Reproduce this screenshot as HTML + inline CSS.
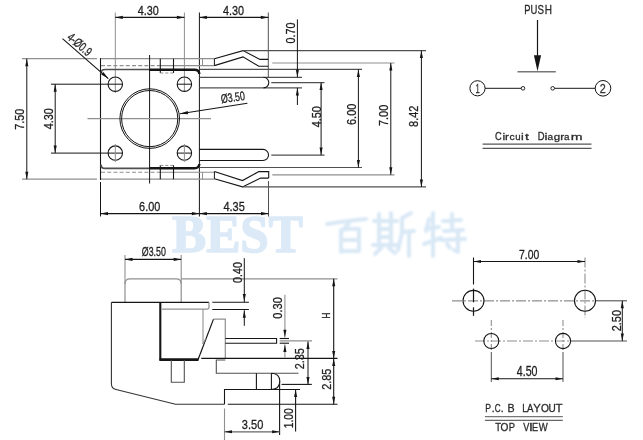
<!DOCTYPE html>
<html><head><meta charset="utf-8"><style>
html,body{margin:0;padding:0;background:#fff;width:643px;height:440px;overflow:hidden}
svg{display:block;will-change:transform}
text{font-family:"Liberation Sans",sans-serif;white-space:pre;stroke:currentColor;stroke-width:0.3px}
</style></head><body>
<svg width="643" height="440" viewBox="0 0 643 440">
<defs><filter id="bl" x="-10%" y="-10%" width="120%" height="120%"><feGaussianBlur stdDeviation="0.9"/></filter></defs>
<rect width="643" height="440" fill="#fff"/>
<text x="237.5" y="251.5" style="font-family:Liberation Serif;font-weight:bold;stroke:#dceaf8;stroke-width:1.6px;stroke-linejoin:round" font-size="53" fill="#dceaf8" text-anchor="middle" textLength="131" lengthAdjust="spacingAndGlyphs">BEST</text>
<path stroke="#d9e8f6" stroke-width="4.0" fill="none" stroke-linecap="round" stroke-linejoin="round" filter="url(#bl)" d="M327,224 Q345,221 366,219 M349,223 L342,231 M341,231 V252 M341,230 Q350,228 359,229 V251 M341,240 H359 M341,251 H359"/>
<path stroke="#d9e8f6" stroke-width="4.0" fill="none" stroke-linecap="round" stroke-linejoin="round" filter="url(#bl)" d="M379,214 V246 M391,213 V246 M374,221 H397 M379,229 H391 M379,237 H391 M373,245 H398 M381,248 L375,254 M389,248 L395,253 M402,218 L411,213 M402,218 V233 L398,250 M402,232 L414,231 M409,232 V256"/>
<path stroke="#d9e8f6" stroke-width="4.0" fill="none" stroke-linecap="round" stroke-linejoin="round" filter="url(#bl)" d="M429,219 L426,231 M426,229 L439,227 M433,213 V256 M424,244 L441,238 M452,214 V231 M443,221 L461,220 M444,231 L463,230 M441,240 L465,239 M458,233 V252 L454,250 M447,244 L450,248"/>
<line x1="115.3" y1="12.5" x2="115.3" y2="93" stroke="#8f8f8f" stroke-width="1"/>
<line x1="184.4" y1="12.5" x2="184.4" y2="92" stroke="#8f8f8f" stroke-width="1"/>
<line x1="199.4" y1="12.5" x2="199.4" y2="216.5" stroke="#151515" stroke-width="1"/>
<line x1="268.3" y1="12.5" x2="268.3" y2="78" stroke="#505050" stroke-width="1"/>
<line x1="115.3" y1="17.4" x2="184.4" y2="17.4" stroke="#151515" stroke-width="1.1"/>
<path d="M115.30,17.40 L122.80,15.85 L122.80,18.95 Z" fill="#151515"/>
<path d="M184.40,17.40 L176.90,18.95 L176.90,15.85 Z" fill="#151515"/>
<line x1="199.4" y1="17.4" x2="268.3" y2="17.4" stroke="#151515" stroke-width="1.1"/>
<path d="M199.40,17.40 L206.90,15.85 L206.90,18.95 Z" fill="#151515"/>
<path d="M268.30,17.40 L260.80,18.95 L260.80,15.85 Z" fill="#151515"/>
<text transform="translate(148.35,10.10)" x="0" y="4.50" font-size="13.08" fill="#1e1e1e" color="#1e1e1e" text-anchor="middle" textLength="21.10" lengthAdjust="spacingAndGlyphs" style="font-family:Liberation Sans">4.30</text>
<text transform="translate(233.55,10.10)" x="0" y="4.50" font-size="13.08" fill="#1e1e1e" color="#1e1e1e" text-anchor="middle" textLength="21.10" lengthAdjust="spacingAndGlyphs" style="font-family:Liberation Sans">4.30</text>
<line x1="22" y1="58.7" x2="97" y2="58.7" stroke="#8f8f8f" stroke-width="1.2"/>
<line x1="22" y1="179.2" x2="97" y2="179.2" stroke="#8f8f8f" stroke-width="1.2"/>
<line x1="26.8" y1="58.7" x2="26.8" y2="179.2" stroke="#151515" stroke-width="1"/>
<path d="M26.80,58.70 L28.35,66.20 L25.25,66.20 Z" fill="#151515"/>
<path d="M26.80,179.20 L25.25,171.70 L28.35,171.70 Z" fill="#151515"/>
<line x1="51" y1="84.2" x2="123" y2="84.2" stroke="#151515" stroke-width="1"/>
<line x1="51" y1="153.1" x2="123" y2="153.1" stroke="#151515" stroke-width="1"/>
<line x1="55.2" y1="84.2" x2="55.2" y2="153.1" stroke="#151515" stroke-width="1"/>
<path d="M55.20,84.20 L56.75,91.70 L53.65,91.70 Z" fill="#151515"/>
<path d="M55.20,153.10 L53.65,145.60 L56.75,145.60 Z" fill="#151515"/>
<text transform="translate(19.40,119.20) rotate(-90)" x="0" y="4.50" font-size="13.08" fill="#1e1e1e" color="#1e1e1e" text-anchor="middle" textLength="21.00" lengthAdjust="spacingAndGlyphs" style="font-family:Liberation Sans">7.50</text>
<text transform="translate(48.40,118.80) rotate(-90)" x="0" y="4.50" font-size="13.08" fill="#1e1e1e" color="#1e1e1e" text-anchor="middle" textLength="21.00" lengthAdjust="spacingAndGlyphs" style="font-family:Liberation Sans">4.30</text>
<line x1="100" y1="58.7" x2="214.4" y2="58.7" stroke="#8f8f8f" stroke-width="1.3"/>
<line x1="100" y1="179.2" x2="214.4" y2="179.2" stroke="#8f8f8f" stroke-width="1.3"/>
<line x1="100.5" y1="58.2" x2="100.5" y2="180" stroke="#151515" stroke-width="1.1"/>
<line x1="100.5" y1="182" x2="100.5" y2="216.5" stroke="#151515" stroke-width="1"/>
<line x1="101" y1="65.6" x2="160" y2="65.6" stroke="#8f8f8f" stroke-width="1.1" stroke-dasharray="4,2.2"/>
<line x1="160" y1="65.6" x2="214.4" y2="65.6" stroke="#8f8f8f" stroke-width="1.1"/>
<line x1="101" y1="172.3" x2="160" y2="172.3" stroke="#8f8f8f" stroke-width="1.1" stroke-dasharray="4,2.2"/>
<line x1="160" y1="172.3" x2="214.4" y2="172.3" stroke="#8f8f8f" stroke-width="1.1"/>
<path d="M149.5,69.5 H105 Q101,69.5 101,73.5" stroke="#505050" stroke-width="1.7" fill="none"/>
<path d="M149.5,168.4 H105 Q101,168.4 101,164.4" stroke="#505050" stroke-width="1.7" fill="none"/>
<path d="M149.5,69.8 H194.5 Q199,69.8 199.4,74" stroke="#151515" stroke-width="2.4" fill="none"/>
<path d="M149.5,168.2 H194.5 Q199,168.2 199.4,164" stroke="#151515" stroke-width="2.4" fill="none"/>
<line x1="160.3" y1="58.7" x2="160.3" y2="73" stroke="#151515" stroke-width="1.1"/>
<line x1="160.3" y1="165.2" x2="160.3" y2="179.2" stroke="#151515" stroke-width="1.1"/>
<line x1="173.5" y1="58.7" x2="173.5" y2="73" stroke="#151515" stroke-width="1.1"/>
<line x1="173.5" y1="165.2" x2="173.5" y2="179.2" stroke="#151515" stroke-width="1.1"/>
<line x1="160.3" y1="73" x2="173.5" y2="73" stroke="#8f8f8f" stroke-width="1" stroke-dasharray="3,2"/>
<line x1="160.3" y1="165.4" x2="173.5" y2="165.4" stroke="#8f8f8f" stroke-width="1" stroke-dasharray="3,2"/>
<line x1="202.5" y1="58.7" x2="202.5" y2="65.6" stroke="#8f8f8f" stroke-width="1"/>
<line x1="202.5" y1="172.3" x2="202.5" y2="179.2" stroke="#8f8f8f" stroke-width="1"/>
<line x1="214.4" y1="58.7" x2="214.4" y2="65.6" stroke="#151515" stroke-width="1"/>
<line x1="214.4" y1="171.6" x2="214.4" y2="178.8" stroke="#151515" stroke-width="1"/>
<line x1="149.6" y1="55" x2="149.6" y2="183.5" stroke="#151515" stroke-width="1"/>
<line x1="87.5" y1="118.6" x2="211" y2="118.6" stroke="#8f8f8f" stroke-width="1.2"/>
<circle cx="149.7" cy="118.6" r="29.8" stroke="#151515" stroke-width="1" fill="none"/>
<circle cx="149.7" cy="118.6" r="28.1" stroke="#151515" stroke-width="1" fill="none"/>
<circle cx="115.3" cy="84.2" r="7.2" stroke="#151515" stroke-width="1.1" fill="none"/>
<circle cx="184.4" cy="84.2" r="7.2" stroke="#151515" stroke-width="1.1" fill="none"/>
<circle cx="115.3" cy="153.1" r="7.2" stroke="#151515" stroke-width="1.1" fill="none"/>
<circle cx="184.4" cy="153.1" r="7.2" stroke="#151515" stroke-width="1.1" fill="none"/>
<line x1="177.2" y1="84.2" x2="191.6" y2="84.2" stroke="#151515" stroke-width="1"/>
<line x1="177.2" y1="153.1" x2="191.6" y2="153.1" stroke="#151515" stroke-width="1"/>
<line x1="184.4" y1="144" x2="184.4" y2="162" stroke="#8f8f8f" stroke-width="1"/>
<line x1="115.3" y1="144" x2="115.3" y2="162" stroke="#8f8f8f" stroke-width="1"/>
<path d="M214.4,58.7 L243,50.6 L260,59.4 H268.3" stroke="#151515" stroke-width="1.1" fill="none"/>
<path d="M214.4,65.6 L243,56.9 L258.8,66.2 H268.3" stroke="#151515" stroke-width="1.1" fill="none"/>
<line x1="243" y1="50.6" x2="426" y2="50.6" stroke="#505050" stroke-width="1.1"/>
<path d="M214.4,171.6 L242.5,180.6 L258.8,171.6 H268.7 V178.1" stroke="#151515" stroke-width="1.1" fill="none"/>
<path d="M214.4,178.8 L242.5,186.9 L260.6,178.1 H268.7" stroke="#151515" stroke-width="1.1" fill="none"/>
<line x1="242.5" y1="186.9" x2="426" y2="186.9" stroke="#505050" stroke-width="1.1"/>
<line x1="268.5" y1="181" x2="268.5" y2="216.5" stroke="#505050" stroke-width="1"/>
<line x1="199.4" y1="77.3" x2="302" y2="77.3" stroke="#505050" stroke-width="1.2"/>
<line x1="199.4" y1="87.9" x2="302" y2="87.9" stroke="#505050" stroke-width="1.2"/>
<path d="M263.5,77.3 A5.3,5.3 0 0 1 263.5,87.9" stroke="#151515" stroke-width="1.1" fill="none"/>
<path d="M199.4,149.4 H263 A5.55,5.55 0 0 1 263,160.5 H199.4" stroke="#151515" stroke-width="1.1" fill="none"/>
<line x1="199.4" y1="69.4" x2="362" y2="69.4" stroke="#505050" stroke-width="1.1"/>
<line x1="199.4" y1="167.5" x2="362" y2="167.5" stroke="#505050" stroke-width="1.1"/>
<line x1="272.3" y1="63" x2="394.5" y2="63" stroke="#8f8f8f" stroke-width="1.2"/>
<line x1="272.3" y1="174.8" x2="394.5" y2="174.8" stroke="#8f8f8f" stroke-width="1.2"/>
<line x1="271.3" y1="82.6" x2="324.5" y2="82.6" stroke="#505050" stroke-width="1.1"/>
<line x1="271.3" y1="155.1" x2="324.5" y2="155.1" stroke="#505050" stroke-width="1.1"/>
<line x1="297.4" y1="19.4" x2="297.4" y2="77.3" stroke="#151515" stroke-width="1"/>
<path d="M297.40,77.30 L295.85,69.80 L298.95,69.80 Z" fill="#151515"/>
<line x1="297.4" y1="87.9" x2="297.4" y2="105" stroke="#151515" stroke-width="1"/>
<path d="M297.40,87.90 L298.95,95.40 L295.85,95.40 Z" fill="#151515"/>
<text transform="translate(290.30,33.10) rotate(-90)" x="0" y="4.50" font-size="13.08" fill="#1e1e1e" color="#1e1e1e" text-anchor="middle" textLength="21.00" lengthAdjust="spacingAndGlyphs" style="font-family:Liberation Sans">0.70</text>
<line x1="321.1" y1="82.6" x2="321.1" y2="155.1" stroke="#151515" stroke-width="1"/>
<path d="M321.10,82.60 L322.65,90.10 L319.55,90.10 Z" fill="#151515"/>
<path d="M321.10,155.10 L319.55,147.60 L322.65,147.60 Z" fill="#151515"/>
<text transform="translate(316.40,116.70) rotate(-90)" x="0" y="4.50" font-size="13.08" fill="#1e1e1e" color="#1e1e1e" text-anchor="middle" textLength="21.20" lengthAdjust="spacingAndGlyphs" style="font-family:Liberation Sans">4.50</text>
<line x1="358.4" y1="69.4" x2="358.4" y2="167.5" stroke="#151515" stroke-width="1"/>
<path d="M358.40,69.40 L359.95,76.90 L356.85,76.90 Z" fill="#151515"/>
<path d="M358.40,167.50 L356.85,160.00 L359.95,160.00 Z" fill="#151515"/>
<text transform="translate(351.20,114.35) rotate(-90)" x="0" y="4.50" font-size="13.08" fill="#1e1e1e" color="#1e1e1e" text-anchor="middle" textLength="21.30" lengthAdjust="spacingAndGlyphs" style="font-family:Liberation Sans">6.00</text>
<line x1="390.8" y1="63" x2="390.8" y2="174.8" stroke="#151515" stroke-width="1"/>
<path d="M390.80,63.00 L392.35,70.50 L389.25,70.50 Z" fill="#151515"/>
<path d="M390.80,174.80 L389.25,167.30 L392.35,167.30 Z" fill="#151515"/>
<text transform="translate(383.40,115.40) rotate(-90)" x="0" y="4.50" font-size="13.08" fill="#1e1e1e" color="#1e1e1e" text-anchor="middle" textLength="21.20" lengthAdjust="spacingAndGlyphs" style="font-family:Liberation Sans">7.00</text>
<line x1="421.4" y1="50.6" x2="421.4" y2="186.9" stroke="#151515" stroke-width="1"/>
<path d="M421.40,50.60 L422.95,58.10 L419.85,58.10 Z" fill="#151515"/>
<path d="M421.40,186.90 L419.85,179.40 L422.95,179.40 Z" fill="#151515"/>
<text transform="translate(413.30,116.30) rotate(-90)" x="0" y="4.50" font-size="13.08" fill="#1e1e1e" color="#1e1e1e" text-anchor="middle" textLength="21.20" lengthAdjust="spacingAndGlyphs" style="font-family:Liberation Sans">8.42</text>
<line x1="100.5" y1="213.6" x2="199.4" y2="213.6" stroke="#151515" stroke-width="1.1"/>
<path d="M100.50,213.60 L108.00,212.05 L108.00,215.15 Z" fill="#151515"/>
<path d="M199.40,213.60 L191.90,215.15 L191.90,212.05 Z" fill="#151515"/>
<line x1="199.4" y1="213.6" x2="268.5" y2="213.6" stroke="#151515" stroke-width="1.1"/>
<path d="M199.40,213.60 L206.90,212.05 L206.90,215.15 Z" fill="#151515"/>
<path d="M268.50,213.60 L261.00,215.15 L261.00,212.05 Z" fill="#151515"/>
<text transform="translate(149.70,206.65)" x="0" y="4.55" font-size="13.23" fill="#1e1e1e" color="#1e1e1e" text-anchor="middle" textLength="21.20" lengthAdjust="spacingAndGlyphs" style="font-family:Liberation Sans">6.00</text>
<text transform="translate(234.10,206.65)" x="0" y="4.55" font-size="13.23" fill="#1e1e1e" color="#1e1e1e" text-anchor="middle" textLength="21.40" lengthAdjust="spacingAndGlyphs" style="font-family:Liberation Sans">4.35</text>
<line x1="62.5" y1="38.6" x2="108.3" y2="78.6" stroke="#151515" stroke-width="1.1"/>
<path d="M108.30,78.60 L101.16,74.62 L103.39,72.06 Z" fill="#151515"/>
<text transform="translate(79.70,44.30) rotate(41.1)" x="0" y="4.40" font-size="12.79" fill="#1e1e1e" color="#1e1e1e" text-anchor="middle" textLength="28.00" lengthAdjust="spacingAndGlyphs" style="font-family:Liberation Sans">4-Ø0.9</text>
<line x1="180" y1="113.8" x2="247.4" y2="103.2" stroke="#151515" stroke-width="1.1"/>
<path d="M180.00,113.80 L187.64,110.88 L188.17,114.24 Z" fill="#151515"/>
<text transform="translate(232.80,97.30) rotate(-8.0)" x="0" y="4.30" font-size="12.50" fill="#1e1e1e" color="#1e1e1e" text-anchor="middle" textLength="24.20" lengthAdjust="spacingAndGlyphs" style="font-family:Liberation Sans">Ø3.50</text>
<text transform="translate(524.13,13.70) scale(0.742,1.0)" x="0" y="0" font-size="12.65" fill="#2a2a2a" color="#2a2a2a">P</text>
<text transform="translate(530.57,13.70) scale(0.750,1.0)" x="0" y="0" font-size="12.65" fill="#2a2a2a" color="#2a2a2a">U</text>
<text transform="translate(537.46,13.70) scale(0.768,1.0)" x="0" y="0" font-size="12.65" fill="#2a2a2a" color="#2a2a2a">S</text>
<text transform="translate(544.78,13.70) scale(0.792,1.0)" x="0" y="0" font-size="12.65" fill="#2a2a2a" color="#2a2a2a">H</text>
<line x1="537.5" y1="20" x2="537.5" y2="62" stroke="#151515" stroke-width="1.2"/>
<path d="M537.50,71.30 L533.90,55.30 L541.10,55.30 Z" fill="#151515"/>
<line x1="517.5" y1="71.8" x2="555.8" y2="71.8" stroke="#777" stroke-width="1.6"/>
<circle cx="477.5" cy="88.3" r="7.6" stroke="#151515" stroke-width="1" fill="none"/>
<circle cx="603" cy="88.3" r="7.8" stroke="#151515" stroke-width="1" fill="none"/>
<line x1="485.1" y1="88.3" x2="521.2" y2="88.3" stroke="#151515" stroke-width="1"/>
<line x1="554.6" y1="88.3" x2="595.2" y2="88.3" stroke="#151515" stroke-width="1"/>
<circle cx="523" cy="88.3" r="1.8" stroke="#151515" stroke-width="0.9" fill="none"/>
<circle cx="552.7" cy="88.3" r="1.8" stroke="#151515" stroke-width="0.9" fill="none"/>
<text transform="translate(477.50,88.20)" x="0" y="4.30" font-size="12.50" fill="#333" color="#333" text-anchor="middle" textLength="4.20" lengthAdjust="spacingAndGlyphs" style="font-family:Liberation Sans">1</text>
<text transform="translate(602.80,88.20)" x="0" y="4.30" font-size="12.50" fill="#333" color="#333" text-anchor="middle" textLength="6.00" lengthAdjust="spacingAndGlyphs" style="font-family:Liberation Sans">2</text>
<text transform="translate(494.94,140.00) scale(0.820,1.0)" x="0" y="0" font-size="11.34" fill="#2a2a2a" color="#2a2a2a" style="stroke-width:0.3px">C</text>
<text transform="translate(502.38,140.00) scale(1.090,0.86)" x="0" y="0" font-size="11.34" fill="#2a2a2a" color="#2a2a2a" style="stroke-width:0.3px">i</text>
<text transform="translate(505.01,140.00) scale(1.054,0.86)" x="0" y="0" font-size="11.34" fill="#2a2a2a" color="#2a2a2a" style="stroke-width:0.3px">r</text>
<text transform="translate(509.46,140.00) scale(0.919,0.86)" x="0" y="0" font-size="11.34" fill="#2a2a2a" color="#2a2a2a" style="stroke-width:0.3px">c</text>
<text transform="translate(515.28,140.00) scale(0.849,0.86)" x="0" y="0" font-size="11.34" fill="#2a2a2a" color="#2a2a2a" style="stroke-width:0.3px">u</text>
<text transform="translate(521.08,140.00) scale(1.090,0.86)" x="0" y="0" font-size="11.34" fill="#2a2a2a" color="#2a2a2a" style="stroke-width:0.3px">i</text>
<text transform="translate(525.02,140.00) scale(1.250,0.86)" x="0" y="0" font-size="11.34" fill="#2a2a2a" color="#2a2a2a" style="stroke-width:0.3px">t</text>
<text transform="translate(537.63,140.00) scale(0.833,1.0)" x="0" y="0" font-size="11.34" fill="#2a2a2a" color="#2a2a2a" style="stroke-width:0.3px">D</text>
<text transform="translate(544.41,140.00) scale(1.189,0.86)" x="0" y="0" font-size="11.34" fill="#2a2a2a" color="#2a2a2a" style="stroke-width:0.3px">i</text>
<text transform="translate(547.38,140.00) scale(0.891,0.86)" x="0" y="0" font-size="11.34" fill="#2a2a2a" color="#2a2a2a" style="stroke-width:0.3px">a</text>
<text transform="translate(553.71,140.00) scale(1.019,0.86)" x="0" y="0" font-size="11.34" fill="#2a2a2a" color="#2a2a2a" style="stroke-width:0.3px">g</text>
<text transform="translate(560.31,140.00) scale(1.054,0.86)" x="0" y="0" font-size="11.34" fill="#2a2a2a" color="#2a2a2a" style="stroke-width:0.3px">r</text>
<text transform="translate(564.08,140.00) scale(0.873,0.86)" x="0" y="0" font-size="11.34" fill="#2a2a2a" color="#2a2a2a" style="stroke-width:0.3px">a</text>
<text transform="translate(570.79,140.00) scale(1.250,0.86)" x="0" y="0" font-size="11.34" fill="#2a2a2a" color="#2a2a2a" style="stroke-width:0.3px">m</text>
<line x1="482.6" y1="144.1" x2="591.5" y2="144.1" stroke="#555" stroke-width="1.3"/>
<line x1="482.6" y1="148.3" x2="591.5" y2="148.3" stroke="#555" stroke-width="1.3"/>
<path d="M125,302.4 V283.8 Q125,278.8 130,278.8 H176.2 Q181.2,278.8 181.2,283.8 V302.4" stroke="#8f8f8f" stroke-width="1.2" fill="none"/>
<line x1="125" y1="255" x2="125" y2="284" stroke="#8f8f8f" stroke-width="1.1"/>
<line x1="181.2" y1="255" x2="181.2" y2="284" stroke="#8f8f8f" stroke-width="1.1"/>
<line x1="181.2" y1="278.8" x2="337.5" y2="278.8" stroke="#8f8f8f" stroke-width="1.2"/>
<line x1="125" y1="259.4" x2="181.2" y2="259.4" stroke="#151515" stroke-width="1.1"/>
<path d="M125.00,259.40 L132.50,257.85 L132.50,260.95 Z" fill="#151515"/>
<path d="M181.20,259.40 L173.70,260.95 L173.70,257.85 Z" fill="#151515"/>
<text transform="translate(153.80,252.15)" x="0" y="4.25" font-size="12.35" fill="#1e1e1e" color="#1e1e1e" text-anchor="middle" textLength="24.00" lengthAdjust="spacingAndGlyphs" style="font-family:Liberation Sans">Ø3.50</text>
<line x1="111.4" y1="302.3" x2="209" y2="302.3" stroke="#151515" stroke-width="1.2"/>
<path d="M111.4,302.3 V383.8 Q111.4,388.5 116,389.5 L175.5,404.3 H224.5" stroke="#333" stroke-width="1.1" fill="none"/>
<path d="M224.5,404.3 V389.5 H300" stroke="#151515" stroke-width="1.1" fill="none"/>
<line x1="160.3" y1="302.3" x2="160.3" y2="359.7" stroke="#151515" stroke-width="2.1"/>
<line x1="159.3" y1="359.7" x2="198.5" y2="359.7" stroke="#151515" stroke-width="2.7"/>
<path d="M162,309.2 H207 Q209,309.2 209,307 V302.3" stroke="#8f8f8f" stroke-width="1.2" fill="none"/>
<line x1="203" y1="309.2" x2="203" y2="344" stroke="#8f8f8f" stroke-width="1.1"/>
<path d="M198,359.7 L213.5,319.1" stroke="#151515" stroke-width="1.2" fill="none"/>
<path d="M213.5,319.1 H225.3 V359" stroke="#8f8f8f" stroke-width="1.2" fill="none"/>
<path d="M203,344 L206,338" stroke="#8f8f8f" stroke-width="1" fill="none"/>
<line x1="201.3" y1="358.4" x2="337.5" y2="358.4" stroke="#151515" stroke-width="1.2"/>
<path d="M225.3,338.5 H276.6 V343.2 H225.3" stroke="#151515" stroke-width="1.1" fill="none"/>
<path d="M171.3,360 V382.2 H184.3 V360" stroke="#505050" stroke-width="1.1" fill="none"/>
<path d="M225.4,360 H216.3 V373.2 H298.5" stroke="#505050" stroke-width="1.1" fill="none"/>
<path d="M256.4,373.2 V389.5 M271.4,373.2 V389.5 M271.4,373.2 Q279.8,373.5 279.8,381.3 Q279.8,389 271.4,389.5" stroke="#151515" stroke-width="1.1" fill="none"/>
<line x1="279.6" y1="381.3" x2="279.6" y2="435" stroke="#151515" stroke-width="1.1"/>
<line x1="224.5" y1="408.5" x2="224.5" y2="440" stroke="#8f8f8f" stroke-width="1.1"/>
<line x1="227.8" y1="404.3" x2="337.5" y2="404.3" stroke="#151515" stroke-width="1.1"/>
<line x1="212.3" y1="302.3" x2="248.9" y2="302.3" stroke="#151515" stroke-width="1.1"/>
<line x1="212.3" y1="309.5" x2="248.9" y2="309.5" stroke="#151515" stroke-width="1.1"/>
<line x1="244.3" y1="258.2" x2="244.3" y2="302.3" stroke="#151515" stroke-width="1"/>
<path d="M244.30,301.60 L242.75,294.10 L245.85,294.10 Z" fill="#151515"/>
<line x1="244.3" y1="310.3" x2="244.3" y2="325.8" stroke="#151515" stroke-width="1"/>
<path d="M244.30,310.30 L245.85,317.80 L242.75,317.80 Z" fill="#151515"/>
<text transform="translate(237.70,272.55) rotate(-90)" x="0" y="4.30" font-size="12.50" fill="#1e1e1e" color="#1e1e1e" text-anchor="middle" textLength="20.70" lengthAdjust="spacingAndGlyphs" style="font-family:Liberation Sans">0.40</text>
<line x1="279.7" y1="338.5" x2="289" y2="338.5" stroke="#151515" stroke-width="1.1"/>
<line x1="279.7" y1="343.2" x2="289" y2="343.2" stroke="#151515" stroke-width="1.1"/>
<line x1="279.7" y1="340.9" x2="312" y2="340.9" stroke="#8f8f8f" stroke-width="1.4"/>
<line x1="284.9" y1="294.8" x2="284.9" y2="337.5" stroke="#8f8f8f" stroke-width="1.1"/>
<path d="M284.90,337.30 L283.35,329.80 L286.45,329.80 Z" fill="#151515"/>
<line x1="284.9" y1="344.5" x2="284.9" y2="357.5" stroke="#8f8f8f" stroke-width="1.1"/>
<path d="M284.90,344.50 L286.45,352.00 L283.35,352.00 Z" fill="#151515"/>
<text transform="translate(277.50,307.95) rotate(-90)" x="0" y="4.30" font-size="12.50" fill="#1e1e1e" color="#1e1e1e" text-anchor="middle" textLength="21.50" lengthAdjust="spacingAndGlyphs" style="font-family:Liberation Sans">0.30</text>
<line x1="281.5" y1="384.4" x2="311.8" y2="384.4" stroke="#151515" stroke-width="1.1"/>
<line x1="308" y1="341.5" x2="308" y2="384.4" stroke="#151515" stroke-width="1"/>
<path d="M308.00,341.60 L309.55,349.10 L306.45,349.10 Z" fill="#151515"/>
<path d="M308.00,384.40 L306.45,376.90 L309.55,376.90 Z" fill="#151515"/>
<text transform="translate(299.90,358.75) rotate(-90)" x="0" y="4.40" font-size="12.79" fill="#1e1e1e" color="#1e1e1e" text-anchor="middle" textLength="21.10" lengthAdjust="spacingAndGlyphs" style="font-family:Liberation Sans">2.35</text>
<line x1="333.7" y1="278.8" x2="333.7" y2="358.4" stroke="#151515" stroke-width="1.1"/>
<path d="M333.70,278.80 L335.25,286.30 L332.15,286.30 Z" fill="#151515"/>
<path d="M333.70,358.40 L332.15,350.90 L335.25,350.90 Z" fill="#151515"/>
<text transform="translate(325.95,315.70) rotate(-90)" x="0" y="3.75" font-size="10.90" fill="#1e1e1e" color="#1e1e1e" text-anchor="middle" textLength="5.80" lengthAdjust="spacingAndGlyphs" style="font-family:Liberation Sans">H</text>
<line x1="333.7" y1="358.4" x2="333.7" y2="404.3" stroke="#151515" stroke-width="1.1"/>
<path d="M333.70,358.40 L335.25,365.90 L332.15,365.90 Z" fill="#151515"/>
<path d="M333.70,404.30 L332.15,396.80 L335.25,396.80 Z" fill="#151515"/>
<text transform="translate(326.60,379.20) rotate(-90)" x="0" y="4.50" font-size="13.08" fill="#1e1e1e" color="#1e1e1e" text-anchor="middle" textLength="21.20" lengthAdjust="spacingAndGlyphs" style="font-family:Liberation Sans">2.85</text>
<line x1="295.6" y1="389.5" x2="295.6" y2="431.5" stroke="#151515" stroke-width="1.1"/>
<path d="M295.60,389.50 L297.15,397.00 L294.05,397.00 Z" fill="#151515"/>
<text transform="translate(289.15,418.30) rotate(-90)" x="0" y="4.25" font-size="12.35" fill="#1e1e1e" color="#1e1e1e" text-anchor="middle" textLength="20.00" lengthAdjust="spacingAndGlyphs" style="font-family:Liberation Sans">1.00</text>
<line x1="224.5" y1="431.8" x2="279.6" y2="431.8" stroke="#666" stroke-width="1.3"/>
<path d="M224.50,431.80 L232.00,430.25 L232.00,433.35 Z" fill="#151515"/>
<path d="M279.60,431.80 L272.10,433.35 L272.10,430.25 Z" fill="#151515"/>
<text transform="translate(252.55,424.45)" x="0" y="4.55" font-size="13.23" fill="#1e1e1e" color="#1e1e1e" text-anchor="middle" textLength="21.50" lengthAdjust="spacingAndGlyphs" style="font-family:Liberation Sans">3.50</text>
<line x1="452" y1="300.8" x2="595" y2="300.8" stroke="#8f8f8f" stroke-width="1.2" stroke-dasharray="10,2,2,2"/>
<line x1="595" y1="300.8" x2="627" y2="300.8" stroke="#505050" stroke-width="1.1"/>
<line x1="475" y1="341" x2="570" y2="341" stroke="#8f8f8f" stroke-width="1.2" stroke-dasharray="10,2,2,2"/>
<line x1="570" y1="341" x2="627" y2="341" stroke="#505050" stroke-width="1.1"/>
<line x1="473.5" y1="257.5" x2="473.5" y2="284.5" stroke="#151515" stroke-width="1.1"/>
<line x1="473.5" y1="288.6" x2="473.5" y2="302.3" stroke="#151515" stroke-width="1.2"/>
<line x1="473.5" y1="307.3" x2="473.5" y2="315.8" stroke="#151515" stroke-width="1.2"/>
<line x1="585" y1="257.5" x2="585" y2="318" stroke="#8f8f8f" stroke-width="1.1" stroke-dasharray="10,2,2,2"/>
<line x1="491.3" y1="320" x2="491.3" y2="352" stroke="#8f8f8f" stroke-width="1.1" stroke-dasharray="6,2,2,2"/>
<line x1="563" y1="320" x2="563" y2="352" stroke="#8f8f8f" stroke-width="1.1" stroke-dasharray="6,2,2,2"/>
<line x1="491.3" y1="352" x2="491.3" y2="382" stroke="#505050" stroke-width="1"/>
<line x1="563" y1="352" x2="563" y2="382" stroke="#505050" stroke-width="1"/>
<circle cx="473.5" cy="300.8" r="10.45" stroke="#151515" stroke-width="1.1" fill="none"/>
<circle cx="585" cy="300.8" r="10.5" stroke="#151515" stroke-width="1.1" fill="none"/>
<circle cx="491.3" cy="341" r="7.5" stroke="#151515" stroke-width="1.1" fill="none"/>
<circle cx="563" cy="341" r="7.6" stroke="#151515" stroke-width="1.1" fill="none"/>
<line x1="473.5" y1="261.5" x2="585" y2="261.5" stroke="#151515" stroke-width="1.1"/>
<path d="M473.50,261.50 L481.00,259.95 L481.00,263.05 Z" fill="#151515"/>
<path d="M585.00,261.50 L577.50,263.05 L577.50,259.95 Z" fill="#151515"/>
<text transform="translate(529.10,254.15)" x="0" y="4.55" font-size="13.23" fill="#1e1e1e" color="#1e1e1e" text-anchor="middle" textLength="20.20" lengthAdjust="spacingAndGlyphs" style="font-family:Liberation Sans">7.00</text>
<line x1="622.3" y1="300.8" x2="622.3" y2="341" stroke="#151515" stroke-width="1"/>
<path d="M622.30,300.80 L623.85,308.30 L620.75,308.30 Z" fill="#151515"/>
<path d="M622.30,341.00 L620.75,333.50 L623.85,333.50 Z" fill="#151515"/>
<text transform="translate(616.10,320.65) rotate(-90)" x="0" y="4.50" font-size="13.08" fill="#1e1e1e" color="#1e1e1e" text-anchor="middle" textLength="21.30" lengthAdjust="spacingAndGlyphs" style="font-family:Liberation Sans">2.50</text>
<line x1="491.3" y1="378.8" x2="563" y2="378.8" stroke="#151515" stroke-width="1.1"/>
<path d="M491.30,378.80 L498.80,377.25 L498.80,380.35 Z" fill="#151515"/>
<path d="M563.00,378.80 L555.50,380.35 L555.50,377.25 Z" fill="#151515"/>
<text transform="translate(527.15,371.05)" x="0" y="4.75" font-size="13.81" fill="#1e1e1e" color="#1e1e1e" text-anchor="middle" textLength="20.70" lengthAdjust="spacingAndGlyphs" style="font-family:Liberation Sans">4.50</text>
<text transform="translate(485.19,412.30) scale(0.761,1.0)" x="0" y="0" font-size="11.34" fill="#2a2a2a" color="#2a2a2a">P</text>
<text transform="translate(491.65,412.30) scale(0.919,1.0)" x="0" y="0" font-size="11.34" fill="#2a2a2a" color="#2a2a2a">.</text>
<text transform="translate(494.69,412.30) scale(0.722,1.0)" x="0" y="0" font-size="11.34" fill="#2a2a2a" color="#2a2a2a">C</text>
<text transform="translate(500.85,412.30) scale(0.919,1.0)" x="0" y="0" font-size="11.34" fill="#2a2a2a" color="#2a2a2a">.</text>
<text transform="translate(507.42,412.30) scale(0.943,1.0)" x="0" y="0" font-size="11.34" fill="#2a2a2a" color="#2a2a2a">B</text>
<text transform="translate(522.14,412.30) scale(0.820,1.0)" x="0" y="0" font-size="11.34" fill="#2a2a2a" color="#2a2a2a">L</text>
<text transform="translate(526.98,412.30) scale(0.851,1.0)" x="0" y="0" font-size="11.34" fill="#2a2a2a" color="#2a2a2a">A</text>
<text transform="translate(533.15,412.30) scale(0.991,1.0)" x="0" y="0" font-size="11.34" fill="#2a2a2a" color="#2a2a2a">Y</text>
<text transform="translate(540.92,412.30) scale(0.904,1.0)" x="0" y="0" font-size="11.34" fill="#2a2a2a" color="#2a2a2a">O</text>
<text transform="translate(548.53,412.30) scale(0.884,1.0)" x="0" y="0" font-size="11.34" fill="#2a2a2a" color="#2a2a2a">U</text>
<text transform="translate(555.55,412.30) scale(1.013,1.0)" x="0" y="0" font-size="11.34" fill="#2a2a2a" color="#2a2a2a">T</text>
<line x1="484.9" y1="416.6" x2="562.8" y2="416.6" stroke="#777" stroke-width="1.4"/>
<line x1="484.9" y1="420.4" x2="562.8" y2="420.4" stroke="#666" stroke-width="1.3"/>
<text transform="translate(495.29,431.40) scale(0.842,1.0)" x="0" y="0" font-size="11.34" fill="#2a2a2a" color="#2a2a2a">T</text>
<text transform="translate(500.53,431.40) scale(0.891,1.0)" x="0" y="0" font-size="11.34" fill="#2a2a2a" color="#2a2a2a">O</text>
<text transform="translate(508.63,431.40) scale(0.827,1.0)" x="0" y="0" font-size="11.34" fill="#2a2a2a" color="#2a2a2a">P</text>
<text transform="translate(523.26,431.40) scale(0.803,1.0)" x="0" y="0" font-size="11.34" fill="#2a2a2a" color="#2a2a2a">V</text>
<text transform="translate(529.03,431.40) scale(1.220,1.0)" x="0" y="0" font-size="11.34" fill="#2a2a2a" color="#2a2a2a">I</text>
<text transform="translate(532.04,431.40) scale(0.812,1.0)" x="0" y="0" font-size="11.34" fill="#2a2a2a" color="#2a2a2a">E</text>
<text transform="translate(538.76,431.40) scale(0.838,1.0)" x="0" y="0" font-size="11.34" fill="#2a2a2a" color="#2a2a2a">W</text>
</svg>
</body></html>
